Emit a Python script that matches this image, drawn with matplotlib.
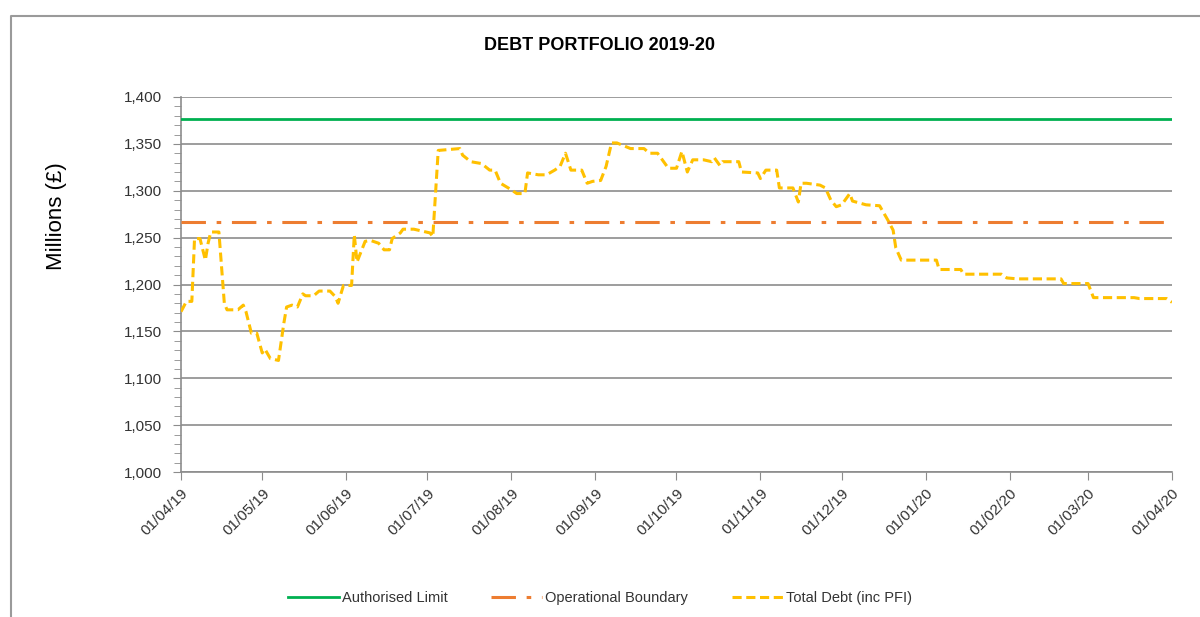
import numpy as np
import matplotlib
matplotlib.use("Agg")
import matplotlib.pyplot as plt
import matplotlib.dates as mdates
from matplotlib.ticker import MultipleLocator, FuncFormatter
from matplotlib.lines import Line2D

plt.rcParams['font.family'] = ['Liberation Sans', 'DejaVu Sans']

title = "DEBT PORTFOLIO 2019-20"
start_date = "2019-04-01"
end_date = "2020-04-01"
authorised_limit = 1377
operational_boundary = 1267

# day offsets from 01/04/19 and total debt values (£m)
debt_days = [0, 2, 4, 5, 7, 9, 10, 11, 14, 16, 17, 21, 23, 24, 26, 28, 30, 31, 33, 36,
             38, 39, 41, 43, 45, 46, 49, 51, 55, 57, 58, 60, 63, 64, 65, 68, 70, 73, 75, 77,
             78, 81, 82, 86, 92, 93, 95, 103, 104, 107, 111, 114, 116, 118, 122, 124, 127, 128,
             132, 135, 138, 140, 142, 144, 148, 150, 152, 155, 157, 159, 161, 166, 171, 173,
             176, 180, 183, 185, 187, 189, 193, 196, 197, 199, 200, 206, 207, 213, 214, 216,
             220, 221, 226, 228, 229, 231, 236, 238, 240, 242, 244, 247, 248, 253, 258, 261,
             263, 264, 266, 279, 280, 288, 289, 303, 305, 309, 325, 326, 335, 337, 352, 354,
             364, 366]
debt_values = [1171, 1182, 1182, 1249, 1249, 1226, 1244, 1256, 1256, 1180, 1173, 1173, 1178, 1171,
               1148, 1148, 1127, 1131, 1121, 1119, 1159, 1176, 1178, 1176, 1190, 1188, 1188, 1193,
               1193, 1187, 1180, 1199, 1199, 1253, 1224, 1246, 1247, 1244, 1237, 1237, 1249, 1255,
               1259, 1259, 1255, 1251, 1343, 1345, 1338, 1331, 1329, 1322, 1322, 1308, 1301, 1297,
               1297, 1319, 1317, 1317, 1322, 1326, 1340, 1322, 1322, 1308, 1310, 1311, 1326, 1351,
               1351, 1345, 1345, 1340, 1340, 1324, 1324, 1342, 1320, 1333, 1333, 1331, 1335, 1327,
               1331, 1331, 1320, 1319, 1313, 1322, 1322, 1303, 1303, 1288, 1308, 1308, 1306, 1303,
               1290, 1283, 1285, 1297, 1289, 1285, 1284, 1269, 1258, 1239, 1226, 1226, 1216, 1216,
               1211, 1211, 1207, 1206, 1206, 1201, 1201, 1186, 1186, 1185, 1185, 1181]

series_labels = ["Authorised Limit", "Operational Boundary", "Total Debt (inc PFI)"]
series_colors = ["#00B050", "#ED7D31", "#FFC000"]

t0 = np.datetime64(start_date)
t1 = np.datetime64(end_date)
debt_dates = t0 + np.array(debt_days).astype('timedelta64[D]')

fig = plt.figure(figsize=(12, 6.17), dpi=100)
# chart-area border (only left and top edges visible in the crop)
fig.add_artist(Line2D([10.5/1200, 10.5/1200, 1.0], [0.0, 1 - 16/617, 1 - 16/617],
                      transform=fig.transFigure, color="#9a9a9a", linewidth=1.5))
ax = fig.add_axes([181/1200, 1 - 472/617, 991/1200, 375/617])

ax.plot([t0, t1], [authorised_limit, authorised_limit], color=series_colors[0],
        linewidth=2, label=series_labels[0], zorder=3)
ax.plot([t0, t1], [operational_boundary, operational_boundary], color=series_colors[1],
        linewidth=2.2, linestyle=(0, (8, 3.5, 1.5, 3.5)), label=series_labels[1], zorder=3)
ax.plot(debt_dates, debt_values, color=series_colors[2], linewidth=2.2,
        linestyle=(0, (3, 1.5)), label=series_labels[2], zorder=3)

ax.set_xlim(t0, t1)
ax.set_ylim(1000, 1400)
ax.yaxis.set_major_locator(MultipleLocator(50))
ax.yaxis.set_minor_locator(MultipleLocator(10))
ax.yaxis.set_major_formatter(FuncFormatter(lambda v, p: f"{int(v):,}"))
ax.xaxis.set_major_locator(mdates.MonthLocator(bymonthday=1))
ax.xaxis.set_major_formatter(mdates.DateFormatter("%d/%m/%y"))

ax.grid(axis='y', which='major', color="#8c8c8c", linewidth=1.2, zorder=1)
for s in ["top", "right"]:
    ax.spines[s].set_visible(False)
for s in ["left", "bottom"]:
    ax.spines[s].set_color("#8c8c8c")
    ax.spines[s].set_linewidth(1.2)

ax.tick_params(axis='y', which='major', length=6, color="#8c8c8c", labelsize=11,
               pad=8, labelcolor="#333333")
ax.tick_params(axis='y', which='minor', length=5, color="#8c8c8c")
ax.tick_params(axis='x', which='major', length=6, color="#8c8c8c", labelsize=11,
               pad=4, labelcolor="#333333")
for lab in ax.get_xticklabels():
    lab.set_rotation(45)
    lab.set_ha('right')
    lab.set_rotation_mode('anchor')

ax.set_ylabel("Millions (£)", fontsize=16)
ax.yaxis.set_label_coords(-0.115, 0.683)
fig.text(0.5, 1 - 45/617, title, ha='center', va='center', fontsize=13, fontweight='bold')

fig.legend(loc='center', bbox_to_anchor=(0.5, 1 - 598/617), ncol=3, frameon=False,
           fontsize=10.5, handlelength=3.5, columnspacing=3, handletextpad=0.2,
           labelcolor="#333333")

fig.savefig("out.png", dpi=100)
